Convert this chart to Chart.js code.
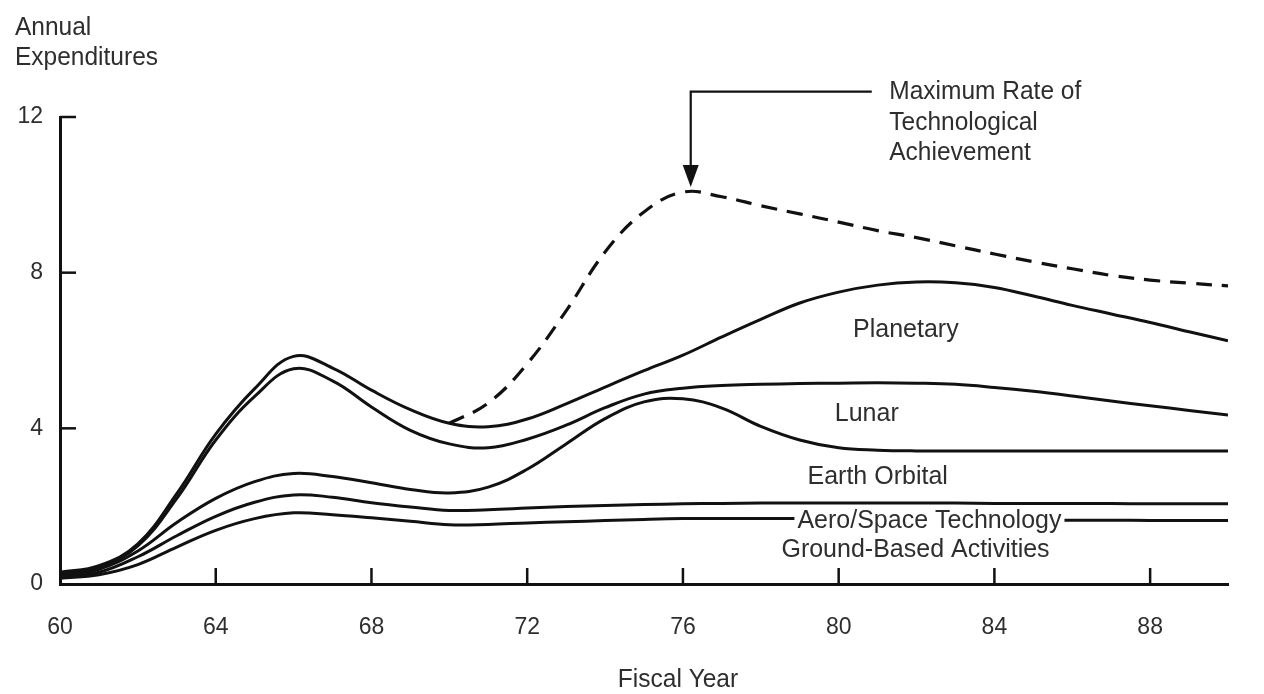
<!DOCTYPE html>
<html>
<head>
<meta charset="utf-8">
<script src="https://cdn.jsdelivr.net/npm/chart.js@4.4.1/dist/chart.umd.min.js"></script>
<style>
html,body{margin:0;padding:0;background:#ffffff;}
#wrap{width:1264px;height:694px;position:relative;}
</style>
</head>
<body>
<div id="wrap"><canvas id="c"></canvas></div>
<script>
// ---- data ----
const years = [60,61,62,63,64,65,66,67,68,69,70,71,72,73,74,75,76,77,78,79,80,81,82,83,84,85,86,87,88,89,90];
const groundBased  = [0.15,0.24,0.50,0.95,1.38,1.68,1.83,1.78,1.70,1.61,1.52,1.53,1.57,1.60,1.63,1.66,1.68,1.68,1.68,1.68,1.67,1.66,1.66,1.65,1.65,1.64,1.64,1.64,1.63,1.63,1.63];
const aeroSpace    = [0.18,0.30,0.70,1.24,1.74,2.10,2.29,2.23,2.09,1.98,1.89,1.91,1.95,1.99,2.02,2.04,2.06,2.07,2.08,2.08,2.08,2.08,2.08,2.08,2.07,2.07,2.07,2.07,2.06,2.06,2.06];
const earthOrbital = [0.22,0.38,0.85,1.58,2.20,2.63,2.84,2.76,2.60,2.43,2.34,2.49,2.95,3.60,4.25,4.68,4.76,4.52,4.05,3.70,3.50,3.44,3.42,3.42,3.42,3.42,3.42,3.42,3.42,3.42,3.42];
const lunar        = [0.25,0.43,0.98,2.20,3.70,4.82,5.53,5.22,4.55,3.95,3.60,3.50,3.72,4.08,4.53,4.88,5.03,5.10,5.13,5.15,5.16,5.17,5.16,5.13,5.05,4.95,4.83,4.70,4.58,4.46,4.34];
const planetary    = [0.30,0.47,1.03,2.32,3.85,5.02,5.85,5.55,4.98,4.48,4.13,4.04,4.24,4.63,5.06,5.48,5.88,6.35,6.80,7.22,7.50,7.68,7.76,7.74,7.62,7.40,7.16,6.94,6.72,6.48,6.25];
const maxRate      = [null,null,null,null,null,null,null,null,null,null,4.13,4.65,5.66,7.02,8.53,9.56,10.07,9.95,9.72,9.51,9.30,9.08,8.90,8.69,8.48,8.28,8.10,7.93,7.81,7.73,7.66];
const xTickLabels = [60,64,68,72,76,80,84,88];
const yTickLabels = [0,4,8,12];
const bandLabels = ['Planetary','Lunar','Earth Orbital','Aero/Space Technology','Ground-Based Activities'];
const annotationLines = ['Maximum Rate of','Technological','Achievement'];
const xTitle = 'Fiscal Year';
const yTitleLines = ['Annual','Expenditures'];

// ---- layout (kept apart from the data) ----
const FONT = '"Liberation Sans", Arial, Helvetica, sans-serif';
const TEXT = '#2e2e2e';
const bandLabelPos = [[80.37,6.35],[79.9,4.19],[79.2,2.57],[78.94,1.44],[78.53,0.69]];
const arrowAt = {x:76.2, tip:10.2, top:12.65, end:80.85, textX:81.3, baselines:[12.47,11.67,10.90]};

const pts = arr => years.map((yr,i)=>({x:yr,y:arr[i]})).filter(p=>p.y!==null);

const solid = (label, arr) => ({
  label, data: pts(arr), borderColor:'#111', borderWidth:3,
  pointRadius:0, fill:false, tension:0.4
});

// text drawn slightly taller, like the reference lettering
function tallText(ctx, t, px, py){
  ctx.save(); ctx.translate(px,py); ctx.scale(1,1.06); ctx.fillText(t,0,0); ctx.restore();
}

const deco = {
  id:'deco',
  afterDatasetsDraw(chart){
    const {ctx, chartArea:a, scales:{x,y}} = chart;
    ctx.save();
    // inward tick marks
    ctx.strokeStyle='#111'; ctx.lineWidth=2.5;
    yTickLabels.forEach(v=>{ if(v===0) return; const py=y.getPixelForValue(v);
      ctx.beginPath(); ctx.moveTo(a.left,py); ctx.lineTo(a.left+16,py); ctx.stroke(); });
    xTickLabels.forEach(v=>{ if(v===60) return; const px=x.getPixelForValue(v);
      ctx.beginPath(); ctx.moveTo(px,a.bottom); ctx.lineTo(px,a.bottom-16); ctx.stroke(); });

    ctx.font = '25px '+FONT;
    ctx.textAlign='left'; ctx.textBaseline='alphabetic';
    bandLabels.forEach((t,i)=>{
      const px=x.getPixelForValue(bandLabelPos[i][0]);
      const py=y.getPixelForValue(bandLabelPos[i][1]);
      if(i===3){
        const w=ctx.measureText(t).width;
        ctx.fillStyle='#ffffff';
        ctx.fillRect(px-3, py-18, w+6, 22);
      }
      ctx.fillStyle=TEXT; tallText(ctx,t,px,py);
    });

    // arrow annotation
    const ax=x.getPixelForValue(arrowAt.x), tip=y.getPixelForValue(arrowAt.tip);
    const top=y.getPixelForValue(arrowAt.top), ex=x.getPixelForValue(arrowAt.end);
    ctx.strokeStyle='#111'; ctx.lineWidth=2.2;
    ctx.beginPath(); ctx.moveTo(ex,top); ctx.lineTo(ax,top); ctx.lineTo(ax,tip-18); ctx.stroke();
    ctx.fillStyle='#111';
    ctx.beginPath(); ctx.moveTo(ax-8,tip-22); ctx.lineTo(ax+8,tip-22); ctx.lineTo(ax,tip); ctx.closePath(); ctx.fill();
    ctx.fillStyle=TEXT;
    const tx=x.getPixelForValue(arrowAt.textX);
    ctx.font = '24.5px '+FONT;
    annotationLines.forEach((t,i)=>tallText(ctx,t,tx,y.getPixelForValue(arrowAt.baselines[i])));

    // axis titles
    tallText(ctx,yTitleLines[0],15,35);
    tallText(ctx,yTitleLines[1],15,65);
    ctx.textAlign='center';
    tallText(ctx,xTitle,678,687);
    ctx.restore();
  }
};

new Chart(document.getElementById('c'), {
  type:'line',
  data:{ datasets:[
    solid('Ground-Based Activities', groundBased),
    solid('Aero/Space Technology', aeroSpace),
    solid('Earth Orbital', earthOrbital),
    solid('Lunar', lunar),
    solid('Planetary', planetary),
    {label:'Maximum Rate of Technological Achievement', data:pts(maxRate), borderColor:'#111',
     borderWidth:3.2, borderDash:[16,10], pointRadius:0, fill:false, tension:0.4}
  ]},
  options:{
    responsive:true, maintainAspectRatio:false, animation:false,
    layout:{padding:{left:0, top:117, right:36, bottom:0}},
    plugins:{legend:{display:false}, tooltip:{enabled:false}, title:{display:false}},
    scales:{
      x:{type:'linear', min:60, max:90,
         afterBuildTicks: s=>{ s.ticks = xTickLabels.map(v=>({value:v})); },
         afterFit: s=>{ s.height = 110; },
         grid:{display:false, drawTicks:false},
         border:{display:true, color:'#111', width:3},
         ticks:{color:TEXT, font:{family:FONT, size:23}, padding:30, maxRotation:0, autoSkip:false}},
      y:{type:'linear', min:0, max:12,
         afterBuildTicks: s=>{ s.ticks = yTickLabels.map(v=>({value:v})); },
         afterFit: s=>{ s.width = 60; },
         grid:{display:false, drawTicks:false},
         border:{display:true, color:'#111', width:3},
         ticks:{color:TEXT, font:{family:FONT, size:23}, padding:17}}
    }
  },
  plugins:[deco]
});
</script>
</body>
</html>
